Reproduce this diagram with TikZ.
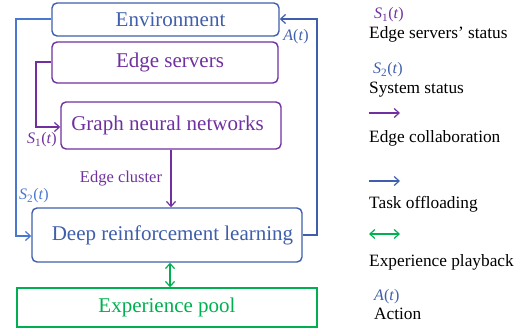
\documentclass[tikz,border=0pt]{standalone}
\usepackage{fontspec}
\setmainfont{Liberation Serif}
\usetikzlibrary{arrows.meta}
\definecolor{dblue}{HTML}{3F5EAB}
\definecolor{lblue}{HTML}{4A78CF}
\definecolor{purp}{HTML}{7030A0}
\definecolor{grn}{HTML}{00B050}
\tikzset{
  box/.style={draw, line width=1.4pt, rounded corners=5pt, inner sep=0pt, font=\rmfamily\fontsize{21}{24}\selectfont},
  arr/.style={line width=1.4pt, -{Straight Barb[length=5pt,width=9pt,line width=1.2pt]}},
  darr/.style={line width=1.4pt, {Straight Barb[length=5pt,width=9pt,line width=1.2pt]}-{Straight Barb[length=5pt,width=9pt,line width=1.2pt]}},
  lbl/.style={inner sep=0pt, font=\rmfamily\fontsize{16}{18}\selectfont},
  leg/.style={inner sep=0pt, anchor=west, font=\rmfamily\fontsize{17.3}{20}\selectfont, text=black},
}
\newcommand{\mylab}[2]{\textit{#1}\textsubscript{#2}(\textit{t})}
\begin{document}
\begin{tikzpicture}[x=1pt,y=-1pt]
\useasboundingbox (0,0) rectangle (529,332);
% boxes
\node[box, draw=dblue, text=dblue, minimum width=227pt, minimum height=33pt] (env) at (165.5,19.5) {\hspace*{10pt}Environment};
\node[box, draw=purp, text=purp, minimum width=226pt, minimum height=41pt] (es) at (165,62.5) {\hspace*{10pt}Edge servers};
\node[box, draw=purp, text=purp, minimum width=220pt, minimum height=47pt] (gnn) at (171,125.5) {Graph neural networks\hspace*{7pt}};
\node[box, draw=dblue, text=dblue, minimum width=270pt, minimum height=54pt] (drl) at (167,235) {\hspace*{11pt}Deep reinforcement learning};
\node[box, rounded corners=0pt, draw=grn, text=grn, minimum width=300pt, minimum height=39pt] (pool) at (167,307.5) {Experience pool};
% connectors
\coordinate (l1) at (16,19);
\coordinate (l2) at (16,236);
\draw[arr, lblue] (env.west |- l1) -- (l1) -- (l2) -- (drl.west |- l2);
\coordinate (r1) at (317,235);
\coordinate (r2) at (317,19);
\draw[arr, dblue] (drl.east |- r1) -- (r1) -- (r2) -- (env.east |- r2);
\coordinate (p1) at (36,62);
\coordinate (p2) at (36,127);
\draw[arr, purp] (es.west |- p1) -- (p1) -- (p2) -- (gnn.west |- p2);
\coordinate (c1) at (171,0);
\draw[arr, purp] (gnn.south -| c1) -- (drl.north -| c1);
\coordinate (g1) at (170,0);
\draw[darr, grn] (drl.south -| g1) -- (pool.north -| g1);
% labels
\node[lbl, text=lblue] (s2l) at (34,196) {\mylab{S}{2}};
\node[lbl, text=dblue] (al) at (296,37) {\textit{A}(\textit{t})};
\node[lbl, text=purp] (s1l) at (42,140) {\mylab{S}{1}};
\node[lbl, text=purp, font=\rmfamily\fontsize{16.5}{18}\selectfont] (ecl) at (121,179) {Edge cluster};
% legend
\node[lbl, text=purp, anchor=west] (lg1) at (374,15) {\mylab{S}{1}};
\node[leg] (lt1) at (369,34) {Edge servers’ status};
\node[lbl, text=dblue, anchor=west] (lg2) at (373,70) {\mylab{S}{2}};
\node[leg] (lt2) at (369,90) {System status};
\coordinate (la1) at (369,113);
\coordinate (lb1) at (400,113);
\draw[arr, purp] (la1) -- (lb1);
\node[leg] (lt3) at (369,138) {Edge collaboration};
\coordinate (la2) at (369,181);
\coordinate (lb2) at (400,181);
\draw[arr, dblue] (la2) -- (lb2);
\node[leg] (lt4) at (369,204) {Task offloading};
\coordinate (la3) at (369,234);
\coordinate (lb3) at (400,234);
\draw[darr, grn] (la3) -- (lb3);
\node[leg] (lt5) at (369,262) {Experience playback};
\node[lbl, text=dblue, anchor=west] (lg6) at (374,297) {\textit{A}(\textit{t})};
\node[leg] (lt6) at (374,314) {Action};
\end{tikzpicture}
\end{document}
